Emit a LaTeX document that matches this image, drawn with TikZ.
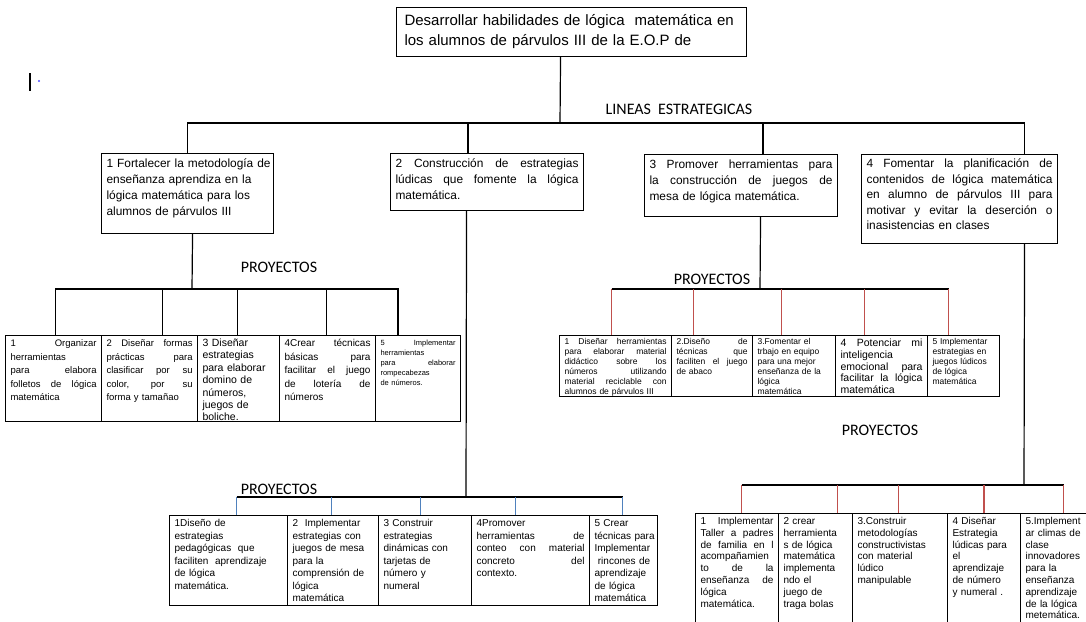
\documentclass[tikz,border=0pt]{standalone}
\usepackage{fontspec}
\setmainfont{Liberation Sans}
\newfontfamily\calibri{Carlito}
\usetikzlibrary{positioning}
\definecolor{dropred}{RGB}{192,80,77}
\definecolor{dropblue}{RGB}{79,129,189}
% justified line (align=left fixes \spaceskip, so free it again)
\newcommand{\jl}[1]{{\spaceskip=0pt\xspaceskip=0pt\makebox[\hsize][s]{#1}}}
\newcommand{\fs}[2]{\fontsize{#1}{#2}\selectfont}

\begin{document}
\begin{tikzpicture}[x=1pt, y=-1pt,
    box/.style n args={3}{draw, line width=1.1pt, anchor=north west, align=left,
      inner xsep=5pt, inner ysep=2pt,
      text width/.expanded=\the\dimexpr#1pt-10pt\relax,
      text height=#3pt, text depth/.expanded=\the\dimexpr#2pt-#3pt-4pt\relax},
    link/.style={line width=1.2pt},
    reddrop/.style={draw=dropred, line width=1.2pt},
    bluedrop/.style={draw=dropblue, line width=1.2pt},
    title/.style={font=\calibri\fontsize{16}{18}\selectfont, inner sep=0pt}
  ]
\useasboundingbox (0,0) rectangle (1086,621);
\clip (0,0) rectangle (1086,621);

% cursor mark
\draw[line width=1.2pt] (30,73) -- (30,91);
\fill[blue!70] (39,81) circle (1.2pt);

% Goal
\node[box={344}{49}{16}, font=\fs{15}{20}, inner xsep=8pt] (goal) at (396,7)
  {Desarrollar habilidades de lógica\ \ matemática en\\
   los alumnos de párvulos III de la E.O.P de};

% Strategic lines
\node[title] (lineas) at (679,109) {LINEAS\ \ ESTRATEGICAS};
\node[box={172}{80}{12}, font=\fs{11.9}{16}] (s1) at (101,153)
  {\mbox{1 Fortalecer la metodología de}\\ enseñanza aprendiza en la\\
   lógica matemática para los\\ alumnos de párvulos III};
\node[box={193}{57}{12}, font=\fs{11.9}{16}] (s2) at (390,153)
  {\jl{2 Construcción de estrategias}\\ \jl{lúdicas que fomente la lógica}\\ matemática.};
\node[box={193}{62}{12}, font=\fs{11.9}{16}] (s3) at (644,154)
  {\jl{3 Promover herramientas para}\\ \jl{la construcción de juegos de}\\
   mesa de lógica matemática.};
\node[box={196}{89}{11}, font=\fs{11.9}{15.5}] (s4) at (861,154)
  {\jl{4 Fomentar la planificación de}\\ \jl{contenidos de lógica matemática}\\
   \jl{en alumno de párvulos III para}\\ \jl{motivar y evitar la deserción o}\\
   inasistencias en clases};

% Projects of line 1
\node[title] (proy1) at (279,267) {PROYECTOS};
\node[box={96}{86}{9}, font=\fs{9.5}{13.5}] (lp1) at (5,335)
  {\jl{1 Organizar}\\ herramientas\\ \jl{para elabora}\\ \jl{folletos de lógica}\\ matemática};
\node[box={96}{86}{9}, font=\fs{9.5}{13.5}] (lp2) at (101,335)
  {\jl{2 Diseñar formas}\\ \jl{prácticas para}\\ \jl{clasificar por su}\\
   \jl{color, por su}\\ forma y tamañao};
\node[box={82}{86}{9}, font=\fs{10.5}{12.4}] (lp3) at (197,335)
  {3 Diseñar\\ estrategias\\ para elaborar\\ domino de\\ números,\\ juegos de\\ boliche.};
\node[box={96}{86}{9}, font=\fs{10}{13.5}] (lp4) at (279,335)
  {\jl{4Crear técnicas}\\ \jl{básicas para}\\ \jl{facilitar el juego}\\
   \jl{de lotería de}\\ números};
\node[box={85}{86}{8}, font=\fs{7.5}{10}] (lp5) at (375,335)
  {\jl{5 Implementar}\\ herramientas\\ \jl{para elaborar}\\ rompecabezas\\ de números.};

% Projects of line 3
\node[title] (proy2) at (712,279) {PROYECTOS};
\node[box={112}{61}{7}, font=\fs{8.5}{10}] (rp1) at (559,335)
  {\jl{1 Diseñar herramientas}\\ \jl{para elaborar material}\\ \jl{didáctico sobre los}\\
   \jl{números utilizando}\\ \jl{material reciclable con}\\ alumnos de párvulos III};
\node[box={81}{61}{7}, font=\fs{8.5}{10}] (rp2) at (671,335)
  {\jl{2.Diseño de}\\ \jl{técnicas que}\\ \jl{faciliten el juego}\\ de abaco};
\node[box={83}{61}{7}, font=\fs{8.5}{10}] (rp3) at (752,335)
  {3.Fomentar el\\ trbajo en equipo\\ para una mejor\\ enseñanza de la\\ lógica\\ matemática};
\node[box={92}{61}{9}, font=\fs{10.5}{11.8}] (rp4) at (835,335)
  {\jl{4 Potenciar mi}\\ inteligencia\\ \jl{emocional para}\\ \jl{facilitar la lógica}\\ matemática};
\node[box={72}{61}{7}, font=\fs{8.5}{10}] (rp5) at (927,335)
  {5 Implementar\\ estrategias en\\ juegos lúdicos\\ de lógica\\ matemática};

% Projects of line 2
\node[title] (proy4) at (279,489) {PROYECTOS};
\node[box={118}{90}{9}, font=\fs{10}{12.5}] (bc1) at (169,515)
  {1Diseño de\\ estrategias\\ pedagógicas\ \ que\\ faciliten\ \ aprendizaje\\ de lógica\\ matemática.};
\node[box={91}{90}{9}, font=\fs{10}{12.5}] (bc2) at (287,515)
  {2\ \ Implementar\\ estrategias con\\ juegos de mesa\\ para la\\ comprensión de\\ lógica\\ matemática};
\node[box={93}{90}{9}, font=\fs{10}{12.5}] (bc3) at (378,515)
  {3 Construir\\ estrategias\\ dinámicas con\\ tarjetas de\\ número y\\ numeral};
\node[box={118}{90}{9}, font=\fs{10}{12.5}] (bc4) at (471,515)
  {4Promover\\ \jl{herramientas de}\\ \jl{conteo con material}\\ \jl{concreto del}\\ contexto.};
\node[box={68}{90}{9}, font=\fs{10}{12.5}] (bc5) at (589,515)
  {5 Crear\\ \mbox{técnicas para}\\ Implementar\\ \ rincones de\\ aprendizaje\\ de lógica\\ matemática};

% Projects of line 4
\node[title] (proy3) at (880,430) {PROYECTOS};
\node[box={83}{120}{9}, font=\fs{10}{11.8}] (br1) at (695,513)
  {\jl{1 Implementar}\\ \jl{Taller a padres}\\ \jl{de familia en l}\\ acompañamien\\
   \jl{to de la}\\ \jl{enseñanza de}\\ lógica\\ matemática.};
\node[box={74}{120}{9}, font=\fs{10}{11.8}] (br2) at (778,513)
  {2 crear\\ herramienta\\ s de lógica\\ matemática\\ implementa\\ ndo el\\ juego de\\ traga bolas};
\node[box={95}{120}{9}, font=\fs{10}{11.8}] (br3) at (852,513)
  {3.Construir\\ metodologías\\ constructivistas\\ con material\\ lúdico\\ manipulable};
\node[box={73}{120}{9}, font=\fs{10}{11.8}] (br4) at (947,513)
  {4 Diseñar\\ Estrategia\\ lúdicas para\\ el\\ aprendizaje\\ de número\\ y numeral .};
\node[box={85}{120}{9}, font=\fs{10}{11.8}] (br5) at (1020,513)
  {5.Implement\\ ar climas de\\ clase\\ innovadores\\ para la\\ enseñanza\\ aprendizaje\\ de la lógica\\ metemática.};

% Connectors: goal to lines
\coordinate (hub) at (560,123);
\draw[link] ([xshift=-11pt]goal.south) -- (hub);
\draw[link] (s1.north) |- (hub) -| ([xshift=65pt]s4.north);
\draw[link] ([xshift=-19pt]s2.north) -- ([xshift=-19pt]s2.north |- hub);
\draw[link] ([xshift=22pt]s3.north) -- ([xshift=22pt]s3.north |- hub);

% line 1 to projects
\coordinate (lhub) at (192,289);
\draw[link] ([xshift=5pt]s1.south) -- (lhub);
\draw[link] ([xshift=2pt]lp1.north) |- (lhub) -| ([xshift=-20pt]lp5.north);
\foreach \b/\s in {lp2/13, lp3/-1, lp4/-1}
  \draw[link] ([xshift=\s pt]\b.north) -- ([xshift=\s pt]\b.north |- lhub);

% line 3 to projects
\coordinate (rhub) at (760,289);
\draw[link] ([xshift=19.5pt]s3.south) -- (rhub);
\draw[link] ([xshift=-4pt]rp1.north |- rhub) -- ([xshift=-15pt]rp5.north |- rhub);
\foreach \b/\s in {rp1/-4, rp2/-18.5, rp3/-12.5, rp4/-17, rp5/-15}
  \draw[reddrop] ([xshift=\s pt]\b.north) -- ([xshift=\s pt]\b.north |- rhub);

% line 2 to projects
\coordinate (chub) at (466,497);
\draw[link] ([xshift=-20.5pt]s2.south) -- (chub);
\draw[link] ([xshift=8pt]bc1.north |- chub) -- ([xshift=-1pt]bc5.north |- chub);
\foreach \b/\s in {bc1/8, bc2/-1.5, bc3/-4.5, bc4/-15, bc5/-1}
  \draw[bluedrop] ([xshift=\s pt]\b.north) -- ([xshift=\s pt]\b.north |- chub);

% line 4 to projects
\coordinate (dhub) at (1024,485);
\draw[link] ([xshift=65pt]s4.south) -- (dhub);
\draw[link] ([xshift=4.5pt]br1.north |- dhub) -- ([xshift=0.5pt]br5.north |- dhub);
\foreach \b/\s in {br1/4.5, br2/22, br3/-1.5, br4/0, br5/0.5}
  \draw[reddrop] ([xshift=\s pt]\b.north) -- ([xshift=\s pt]\b.north |- dhub);

\end{tikzpicture}
\end{document}
